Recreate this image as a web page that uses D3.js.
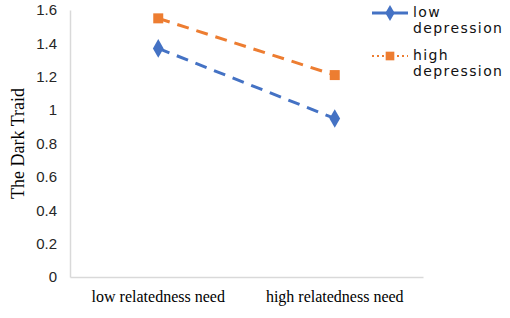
<!DOCTYPE html>
<html>
<head>
<meta charset="utf-8">
<script src="https://cdn.jsdelivr.net/npm/d3@7"></script>
<style>
body { margin: 0; background: #fff; }
</style>
</head>
<body>
<svg id="chart"></svg>
<script>
// data
var categories = ["low relatedness need", "high relatedness need"];
var seriesNames = ["low depression", "high depression"];
var lowDepression = [1.37, 0.95];
var highDepression = [1.55, 1.21];
var yTicks = [0, 0.2, 0.4, 0.6, 0.8, 1, 1.2, 1.4, 1.6];

var width = 510, height = 318;
var svg = d3.select("#chart").attr("width", width).attr("height", height);

// plot area
var plotLeft = 70, plotRight = 423, plotTop = 10, plotBottom = 277;

var x = d3.scaleBand().domain(categories).range([plotLeft, plotRight]);
var y = d3.scaleLinear().domain([0, 1.6]).range([plotBottom, plotTop]);

// y axis
var yAxis = svg.append("g")
  .attr("transform", "translate(" + plotLeft + ",0)")
  .call(d3.axisLeft(y).tickValues(yTicks).tickSize(0).tickPadding(13)
    .tickFormat(function(d) { return String(+d.toFixed(1)); }));
yAxis.select(".domain").attr("stroke", "#d9d9d9").attr("stroke-width", 1.5);
yAxis.selectAll("text")
  .style("font-family", "Liberation Sans, Arial, sans-serif")
  .style("font-size", "15px")
  .attr("fill", "#262626");

// x axis
var xAxis = svg.append("g")
  .attr("transform", "translate(0," + plotBottom + ")")
  .call(d3.axisBottom(x).tickSize(0).tickPadding(14));
xAxis.select(".domain").attr("stroke", "#d9d9d9").attr("stroke-width", 1.5);
xAxis.selectAll("text")
  .style("font-family", "Liberation Serif, Times New Roman, serif")
  .style("font-size", "16px")
  .attr("fill", "#000");

// y title
svg.append("text")
  .attr("transform", "translate(24," + ((plotTop + plotBottom) / 2) + ") rotate(-90)")
  .attr("text-anchor", "middle")
  .style("font-family", "Liberation Serif, Times New Roman, serif")
  .style("font-size", "18px")
  .text("The Dark Traid");

var series = [
  { name: seriesNames[0], values: lowDepression, color: "#4472c4", shape: d3.symbolDiamond, legendDash: null },
  { name: seriesNames[1], values: highDepression, color: "#ed7d31", shape: d3.symbolSquare, legendDash: "2,3" }
];

var line = d3.line()
  .x(function(d, i) { return x(categories[i]) + x.bandwidth() / 2; })
  .y(function(d) { return y(d); });

series.forEach(function(s) {
  svg.append("path")
    .attr("d", line(s.values))
    .attr("fill", "none")
    .attr("stroke", s.color)
    .attr("stroke-width", 3)
    .attr("stroke-dasharray", "12,8");
  svg.selectAll(null)
    .data(s.values)
    .enter()
    .append("path")
    .attr("d", d3.symbol().type(s.shape).size(100))
    .attr("transform", function(d, i) {
      return "translate(" + (x(categories[i]) + x.bandwidth() / 2) + "," + y(d) + ")";
    })
    .attr("fill", s.color);
});

// legend
var legend = svg.append("g").attr("transform", "translate(372,0)");
series.forEach(function(s, i) {
  var gy = 13 + i * 43;
  legend.append("line")
    .attr("x1", 0).attr("x2", 36)
    .attr("y1", gy).attr("y2", gy)
    .attr("stroke", s.color)
    .attr("stroke-width", s.legendDash ? 2 : 3)
    .attr("stroke-dasharray", s.legendDash);
  legend.append("path")
    .attr("d", d3.symbol().type(s.shape).size(75))
    .attr("transform", "translate(18," + gy + ")")
    .attr("fill", s.color);
  var words = s.name.split(" ");
  words.forEach(function(w, j) {
    legend.append("text")
      .attr("x", 41)
      .attr("y", gy + 4 + j * 16)
      .style("font-family", "DejaVu Sans, Verdana, sans-serif")
      .style("font-size", "14px")
      .style("letter-spacing", "1.4px")
      .attr("fill", "#111")
      .text(w);
  });
});
</script>
</body>
</html>
